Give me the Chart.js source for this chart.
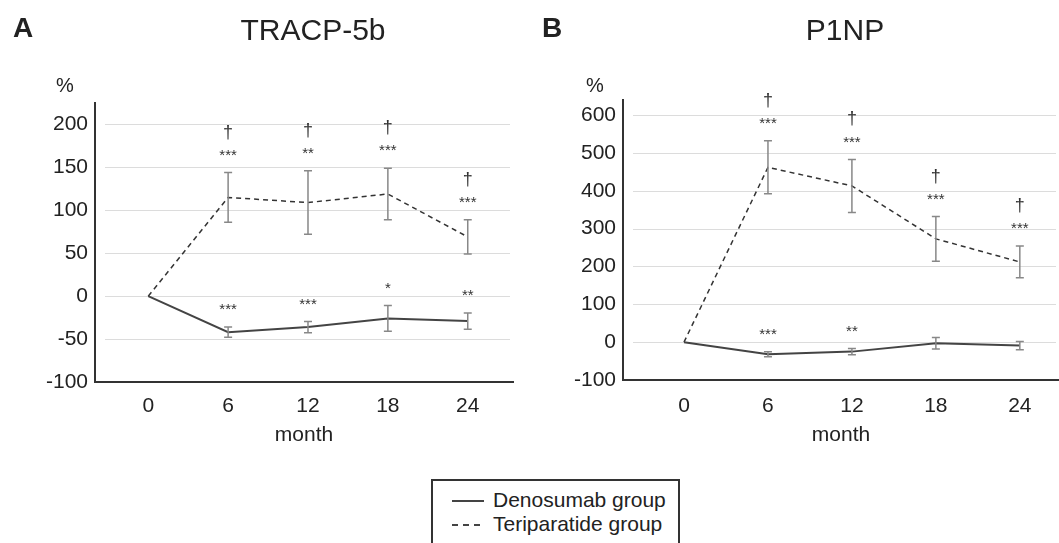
<!DOCTYPE html>
<html>
<head>
<meta charset="utf-8">
<script src="https://cdn.jsdelivr.net/npm/chart.js@4.4.0/dist/chart.umd.min.js"></script>
<style>
  body { margin: 0; width: 1059px; height: 543px; overflow: hidden; background: #fff;
         font-family: "Liberation Sans", Arial, sans-serif; color: #222; position: relative; }
  canvas { position: absolute; top: 0; }
  .lbl { position: absolute; transform: translate(-50%, -50%); white-space: nowrap; }
  .panel { font-weight: bold; font-size: 28px; }
  .title { font-size: 30px; }
  .pct { font-size: 20px; }
  #legend { position: absolute; left: 431px; top: 479px; width: 245px; height: 80px;
            border: 2px solid #333; }
  #legend div { position: absolute; left: 60px; font-size: 21px; line-height: 24px; }
  #legend svg { position: absolute; left: 19px; }
</style>
</head>
<body>
<canvas id="chartA" width="530" height="452" style="left:0"></canvas>
<canvas id="chartB" width="529" height="452" style="left:530px"></canvas>

<div class="lbl panel" style="left:23px;top:28px">A</div>
<div class="lbl title" style="left:313px;top:30px">TRACP-5b</div>
<div class="lbl pct" style="left:65px;top:85px">%</div>

<div class="lbl panel" style="left:552px;top:28px">B</div>
<div class="lbl title" style="left:845px;top:30px">P1NP</div>
<div class="lbl pct" style="left:595px;top:85px">%</div>

<div id="legend">
  <svg width="34" height="4" style="top:18px"><line x1="0" y1="2" x2="32" y2="2" stroke="#444" stroke-width="2"/></svg>
  <div style="top:7px">Denosumab group</div>
  <svg width="34" height="4" style="top:42px"><line x1="0" y1="2" x2="32" y2="2" stroke="#444" stroke-width="2" stroke-dasharray="6,5"/></svg>
  <div style="top:31px">Teriparatide group</div>
</div>

<script>
const months = [0, 6, 12, 18, 24];

// TRACP-5b, % change from baseline
const tracpDeno = [0, -42, -36, -26, -29];
const tracpDenoErr = [0, 6, 6.5, 15, 9.5];
const tracpTeri = [0, 115, 109, 119, 69];
const tracpTeriErr = [0, 29, 37, 30, 20];
const tracpDenoSig = ['', '***', '***', '*', '**'];
const tracpTeriSig = ['', '***', '**', '***', '***'];
const tracpTeriDagger = ['', '†', '†', '†', '†'];
const tracpTicks = [-100, -50, 0, 50, 100, 150, 200];

// P1NP, % change from baseline
const p1npDeno = [0, -32, -25, -3, -9];
const p1npDenoErr = [0, 6.5, 8, 15, 11];
const p1npTeri = [0, 462, 413, 273, 212];
const p1npTeriErr = [0, 70, 70, 59, 42];
const p1npDenoSig = ['', '***', '**', '', ''];
const p1npTeriSig = ['', '***', '***', '***', '***'];
const p1npTeriDagger = ['', '†', '†', '†', '†'];
const p1npTicks = [-100, 0, 100, 200, 300, 400, 500, 600];

const FONT = '"Liberation Sans", Arial, sans-serif';

// horizontal grid lines, leaving a small gap next to the y axis
const gridLines = {
  id: 'gridLines',
  beforeDatasetsDraw(chart) {
    const { ctx, chartArea, scales: { y } } = chart;
    ctx.save();
    ctx.strokeStyle = '#dcdcdc';
    ctx.lineWidth = 1;
    y.ticks.forEach(t => {
      if (t.value === y.min) return;
      const py = Math.round(y.getPixelForValue(t.value)) + 0.5;
      ctx.beginPath();
      ctx.moveTo(chartArea.left + 10, py);
      ctx.lineTo(chartArea.right - 3, py);
      ctx.stroke();
    });
    ctx.restore();
  }
};

// error bars + significance marks, placed from the scales
const errorBars = {
  id: 'errorBars',
  afterDatasetsDraw(chart) {
    const { ctx, scales: { x, y } } = chart;
    chart.data.datasets.forEach(ds => {
      ds.err.forEach((e, i) => {
        const pt = ds.data[i];
        const px = x.getPixelForValue(pt.x);
        const top = y.getPixelForValue(pt.y + e);
        const bot = y.getPixelForValue(pt.y - e);
        ctx.save();
        if (e) {
          ctx.strokeStyle = '#888';
          ctx.lineWidth = 1.5;
          ctx.beginPath();
          ctx.moveTo(px, top); ctx.lineTo(px, bot);
          ctx.moveTo(px - 4, top); ctx.lineTo(px + 4, top);
          ctx.moveTo(px - 4, bot); ctx.lineTo(px + 4, bot);
          ctx.stroke();
        }
        ctx.fillStyle = '#333';
        ctx.textAlign = 'center';
        ctx.textBaseline = 'middle';
        if (ds.sig && ds.sig[i]) {
          ctx.font = '15px ' + FONT;
          ctx.fillText(ds.sig[i], px, top - 17);
        }
        if (ds.dagger && ds.dagger[i]) {
          ctx.font = '18px ' + FONT;
          ctx.fillText(ds.dagger[i], px, top - 40);
        }
        ctx.restore();
      });
    });
  }
};

function toPoints(vals) {
  return months.map((m, i) => ({ x: m, y: vals[i] }));
}

function makeChart(id, cfg) {
  new Chart(document.getElementById(id), {
    type: 'line',
    data: {
      datasets: [
        {
          label: 'Denosumab group',
          data: toPoints(cfg.deno),
          err: cfg.denoErr,
          sig: cfg.denoSig,
          borderColor: '#444',
          borderWidth: 2,
          pointRadius: 0,
          tension: 0
        },
        {
          label: 'Teriparatide group',
          data: toPoints(cfg.teri),
          err: cfg.teriErr,
          sig: cfg.teriSig,
          dagger: cfg.teriDagger,
          borderColor: '#333',
          borderWidth: 1.5,
          borderDash: [5, 4],
          pointRadius: 0,
          tension: 0
        }
      ]
    },
    options: {
      responsive: false,
      animation: false,
      layout: { padding: { top: cfg.top, right: cfg.right, left: 0, bottom: 0 } },
      plugins: { legend: { display: false }, tooltip: { enabled: false } },
      scales: {
        x: {
          type: 'linear',
          min: cfg.xmin,
          max: cfg.xmax,
          afterBuildTicks: s => { s.ticks = months.map(v => ({ value: v })); },
          afterFit: s => { s.height = 452 - cfg.bottom; },
          grid: { display: false, drawTicks: false },
          border: { color: '#333', width: 2 },
          ticks: { color: '#222', font: { size: 21, family: FONT }, padding: cfg.xpad, maxRotation: 0 },
          title: { display: true, text: 'month', color: '#222', font: { size: 21, family: FONT },
                   padding: { top: 0, bottom: 4 } }
        },
        y: {
          min: cfg.ymin,
          max: cfg.ymax,
          afterBuildTicks: s => { s.ticks = cfg.ticks.map(v => ({ value: v })); },
          afterFit: s => { s.width = cfg.left; },
          grid: { display: false, drawTicks: false },
          border: { color: '#333', width: 2 },
          ticks: { color: '#222', font: { size: 21, family: FONT }, padding: 7 }
        }
      }
    },
    plugins: [gridLines, errorBars]
  });
}

makeChart('chartA', {
  deno: tracpDeno, denoErr: tracpDenoErr, denoSig: tracpDenoSig,
  teri: tracpTeri, teriErr: tracpTeriErr, teriSig: tracpTeriSig, teriDagger: tracpTeriDagger,
  ticks: tracpTicks, ymin: -100, ymax: 225,
  xmin: -4, xmax: 27.4,
  top: 103, right: 17, left: 95, bottom: 382, xpad: 12
});

makeChart('chartB', {
  deno: p1npDeno, denoErr: p1npDenoErr, denoSig: p1npDenoSig,
  teri: p1npTeri, teriErr: p1npTeriErr, teriSig: p1npTeriSig, teriDagger: p1npTeriDagger,
  ticks: p1npTicks, ymin: -100, ymax: 640,
  xmin: -4.36, xmax: 26.8,
  top: 100, right: 0, left: 93, bottom: 380, xpad: 14
});
</script>
</body>
</html>
